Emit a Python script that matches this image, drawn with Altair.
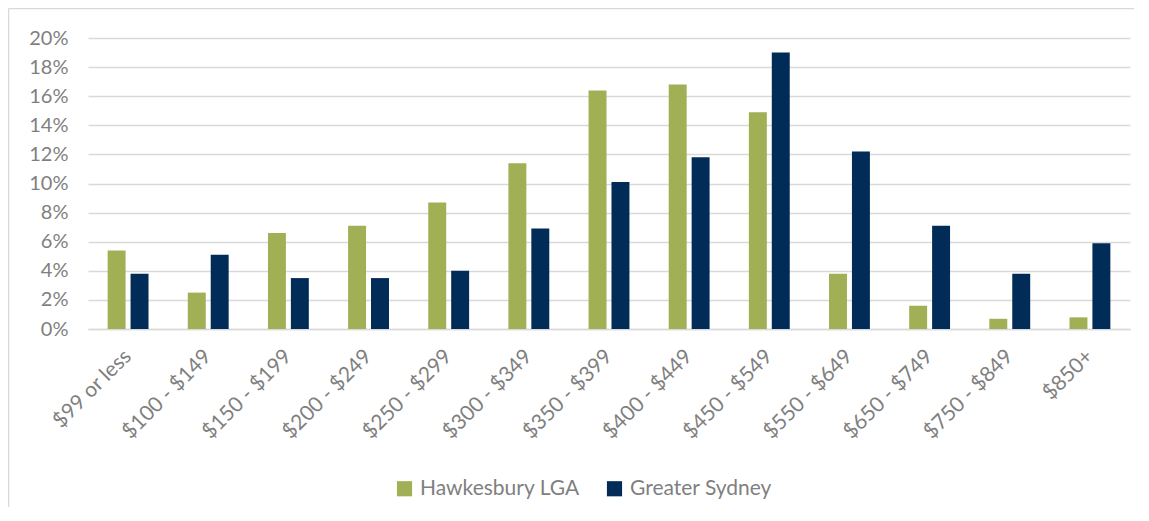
import altair as alt
import pandas as pd

categories = ["$99 or less", "$100 - $149", "$150 - $199", "$200 - $249", "$250 - $299",
              "$300 - $349", "$350 - $399", "$400 - $449", "$450 - $549", "$550 - $649",
              "$650 - $749", "$750 - $849", "$850+"]
hawkesbury = [5.4, 2.5, 6.6, 7.1, 8.7, 11.4, 16.4, 16.8, 14.9, 3.8, 1.6, 0.7, 0.8]
sydney = [3.8, 5.1, 3.5, 3.5, 4.0, 6.9, 10.1, 11.8, 19.0, 12.2, 7.1, 3.8, 5.9]
series = ["Hawkesbury LGA", "Greater Sydney"]
colors = ["#A1AF55", "#012C57"]

rows = []
for c, h, s in zip(categories, hawkesbury, sydney):
    rows.append({"band": c, "series": series[0], "value": h / 100})
    rows.append({"band": c, "series": series[1], "value": s / 100})
df = pd.DataFrame(rows)

FONT = "Lato"
GRAY = "#7F7F7F"
W, H = 1042, 291

bars = alt.Chart(df).mark_bar().encode(
    x=alt.X("band:N", sort=categories, title=None,
            scale=alt.Scale(paddingInner=0.49, paddingOuter=0.245),
            axis=alt.Axis(labelAngle=315, labelAlign="right", labelBaseline="middle",
                          labelFontSize=21, labelColor=GRAY, labelFont=FONT,
                          labelPadding=24, ticks=False, domainColor="#D9D9D9",
                          domainWidth=1.5, grid=False)),
    xOffset=alt.XOffset("series:N", sort=series,
                        scale=alt.Scale(paddingInner=0.217, paddingOuter=0)),
    y=alt.Y("value:Q", title=None,
            scale=alt.Scale(domain=[0, 0.2], nice=False),
            axis=alt.Axis(format=".0%", values=[i / 100 for i in range(0, 21, 2)],
                          labelFontSize=20, labelColor=GRAY, labelFont=FONT,
                          labelPadding=20, ticks=False, domain=False,
                          gridColor="#D9D9D9", gridWidth=1.5)),
    color=alt.Color("series:N", sort=series,
                    scale=alt.Scale(domain=series, range=colors),
                    legend=alt.Legend(title=None, orient="none", direction="horizontal",
                                      legendX=306, legendY=440,
                                      symbolType="square", symbolSize=230,
                                      symbolStrokeWidth=0, labelLimit=400,
                                      labelFontSize=21, labelColor=GRAY, labelFont=FONT,
                                      labelOffset=5, columnPadding=24)),
)

edge = pd.DataFrame({"a": [0]})
top_line = alt.Chart(edge).mark_rule(color="#D9D9D9", strokeWidth=1.5).encode(
    x=alt.value(-79.5), x2=alt.value(W + 30), y=alt.value(-29.5)
)
left_line = alt.Chart(edge).mark_rule(color="#D9D9D9", strokeWidth=1.5).encode(
    x=alt.value(-79.5), y=alt.value(-29.5), y2=alt.value(H + 178)
)

chart = alt.layer(top_line, left_line, bars).properties(
    width=W, height=H,
    autosize=alt.AutoSizeParams(type="none"),
    padding={"left": 80, "top": 30, "right": 4, "bottom": 178},
).configure_view(stroke=None)

chart.save("out.html", embed_options={"renderer": "svg", "actions": False})
